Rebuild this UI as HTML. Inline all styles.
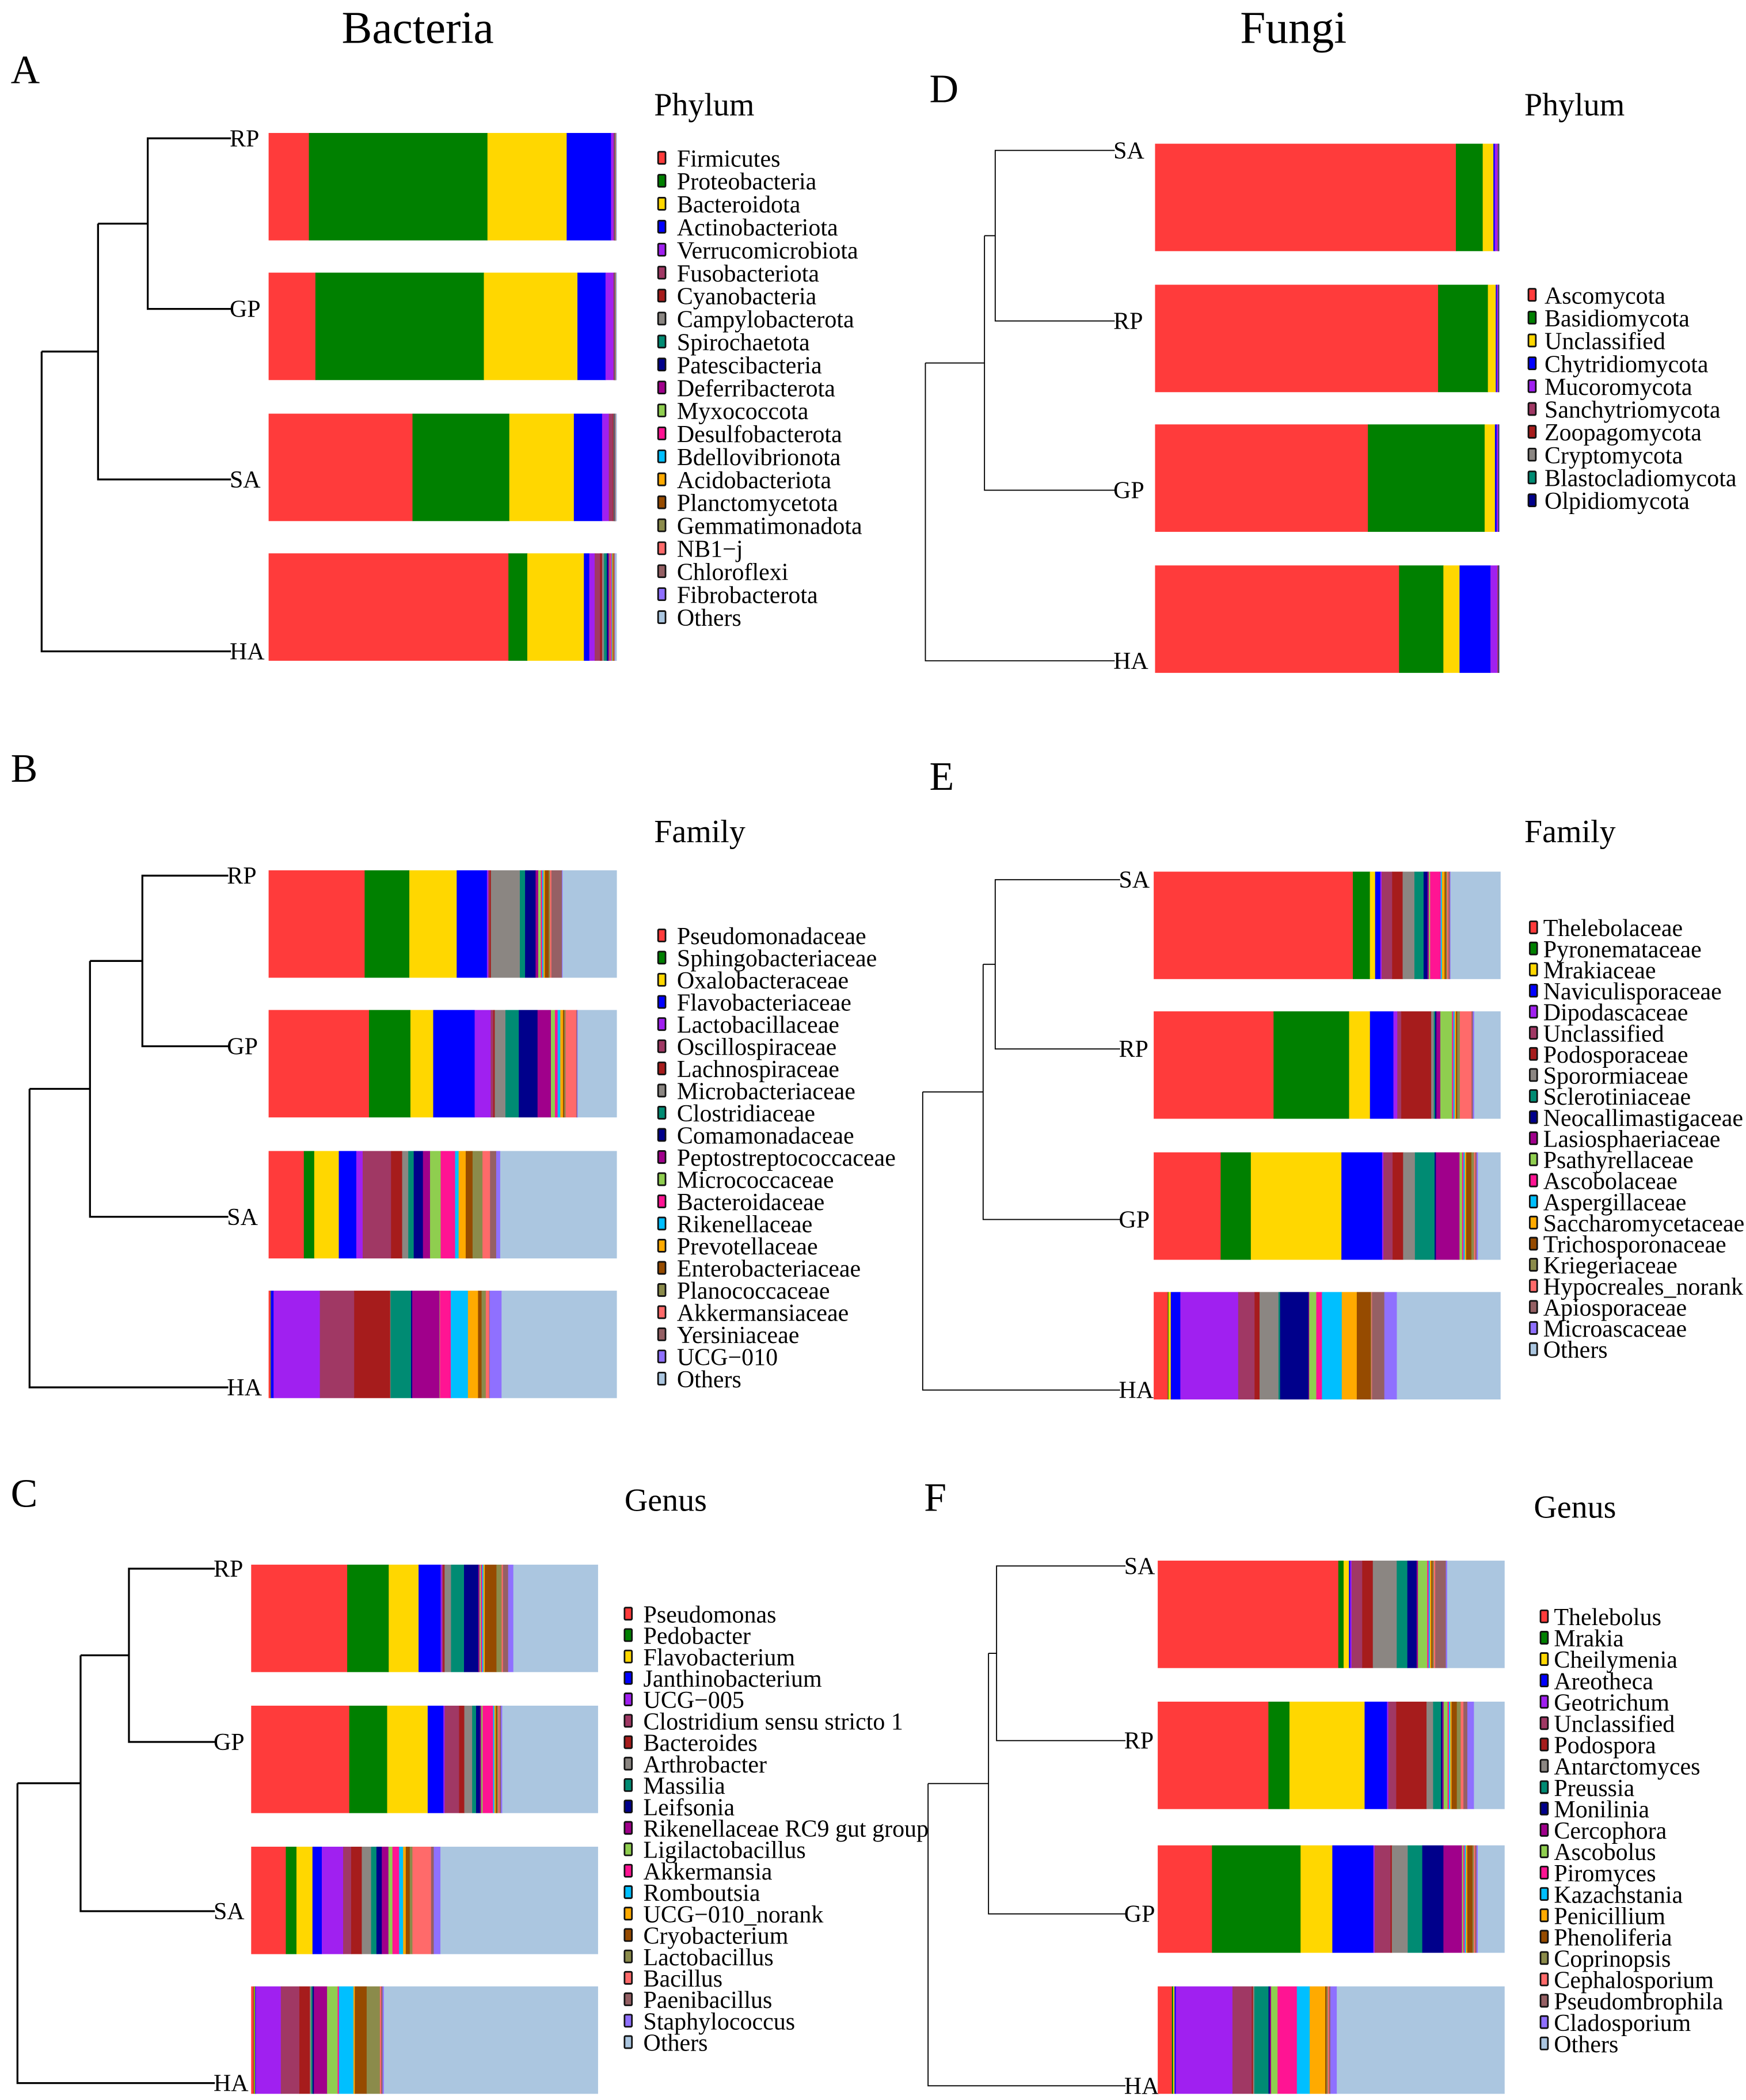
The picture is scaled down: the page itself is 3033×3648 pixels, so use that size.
<!DOCTYPE html>
<html><head><meta charset="utf-8"><style>
html,body{margin:0;padding:0;background:#fff}
svg{display:block}
text{font-family:"Liberation Serif",serif;fill:#000}
</style></head><body>
<svg id="fig" xmlns="http://www.w3.org/2000/svg" width="3033" height="3648" viewBox="0 0 1300 1563.6">
<rect x="0" y="0" width="1300" height="1563.6" fill="#fff"/>
<text x="311" y="32" font-size="34" text-anchor="middle">Bacteria</text>
<text x="963" y="32" font-size="34" text-anchor="middle">Fungi</text>
</svg>
<script>
const palette=['#FF3B3B','#008000','#FFD700','#0000FF','#A020F0','#A03864','#A61C1C','#8B8682','#008B73','#00008B','#A0008B','#8FCE4F','#FF1493','#00BFFF','#FFAA00','#964B00','#8B8B4B','#FF6A6A','#956064','#8F70FF'];
const othersColor='#ABC6E0';

// Panel A: bacteria phylum
const aSamples=['RP','GP','SA','HA'];
const aTaxa=['Firmicutes','Proteobacteria','Bacteroidota','Actinobacteriota','Verrucomicrobiota','Fusobacteriota','Cyanobacteria','Campylobacterota','Spirochaetota','Patescibacteria','Deferribacterota','Myxococcota','Desulfobacterota','Bdellovibrionota','Acidobacteriota','Planctomycetota','Gemmatimonadota','NB1\u2212j','Chloroflexi','Fibrobacterota','Others'];
const aValues=[
[30,133,59,33,2,0.3,0.2,0.2,0.1,0.1,0.1,0.1,0.1,0.1,0.1,0.1,0.1,0.1,0.1,0.1,0.2],
[35,126,70,21,6,0.3,0.2,0.2,0.1,0.1,0.1,0.1,0.1,0.1,0.1,0.1,0.1,0.1,0.1,0.1,0.3],
[107,72,48,21,5,3,0.5,0.3,0.2,0.2,0.1,0.1,0.1,0.1,0.1,0.1,0.1,0.1,0.1,0.1,0.5],
[178,14,42,4,4,4,1.5,1.5,2,1,1,0.5,1,0.5,0.5,0.5,0.3,0.3,0.3,0.3,1]];

// Panel D: fungi phylum
const dSamples=['SA','RP','GP','HA'];
const dTaxa=['Ascomycota','Basidiomycota','Unclassified','Chytridiomycota','Mucoromycota','Sanchytriomycota','Zoopagomycota','Cryptomycota','Blastocladiomycota','Olpidiomycota'];
const dValues=[
[87.5,7.8,3.1,0.4,0.8,0.1,0.1,0.1,0.05,0.05],
[82.4,14.5,2.3,0.3,0.3,0.1,0.05,0.05,0.05,0.05],
[62,34,3,0.5,0.4,0.05,0.05,0.05,0.05,0.05],
[71,12.9,4.7,9,2,0.2,0.1,0.05,0.05,0.05]];

// Panel B: bacteria family
const bSamples=['RP','GP','SA','HA'];
const bTaxa=['Pseudomonadaceae','Sphingobacteriaceae','Oxalobacteraceae','Flavobacteriaceae','Lactobacillaceae','Oscillospiraceae','Lachnospiraceae','Microbacteriaceae','Clostridiaceae','Comamonadaceae','Peptostreptococcaceae','Micrococcaceae','Bacteroidaceae','Rikenellaceae','Prevotellaceae','Enterobacteriaceae','Planococcaceae','Akkermansiaceae','Yersiniaceae','UCG\u2212010','Others'];
const bValues=[
[73,34,36,23,1,1,1,22,4,8,2,2,1,1,1,3,1,1,8,0.5,41],
[75,31,17,31,12,2,1,8,10,14,10,3,2,2,2,1,1,8,0.5,0.5,29],
[149,44,104,74,27,120,47,26,23,39,30,45,61,15,30,29,42,32,26,17,492],
[7,1,1,12,197,146,153,2,87,5,116,2,46,73,43,15,18,14,2,51,489]];

// Panel E: fungi family
const eSamples=['SA','RP','GP','HA'];
const eTaxa=['Thelebolaceae','Pyronemataceae','Mrakiaceae','Naviculisporaceae','Dipodascaceae','Unclassified','Podosporaceae','Sporormiaceae','Sclerotiniaceae','Neocallimastigaceae','Lasiosphaeriaceae','Psathyrellaceae','Ascobolaceae','Aspergillaceae','Saccharomycetaceae','Trichosporonaceae','Kriegeriaceae','Hypocreales_norank','Apiosporaceae','Microascaceae','Others'];
const eValues=[
[152,13,4,4,1,8,8,9,7,3,1,1,8,1,2,1,1,1,1,0.5,38],
[92,58,16,18,3,3,23,2,1,1,3,9,1,1,1,1,2,9,1,1,20],
[51,23,69,31,1,7,8,9,15,1,18,2,1,1,1,4,2,1,1,1,17],
[62,3,10,42,254,72,22,83,7,125,3,31,25,87,66,61,3,3,54,55,454]];

// Panel C: bacteria genus
const cSamples=['RP','GP','SA','HA'];
const cTaxa=['Pseudomonas','Pedobacter','Flavobacterium','Janthinobacterium','UCG\u2212005','Clostridium sensu stricto 1','Bacteroides','Arthrobacter','Massilia','Leifsonia','Rikenellaceae RC9 gut group','Ligilactobacillus','Akkermansia','Romboutsia','UCG\u2212010_norank','Cryobacterium','Lactobacillus','Bacillus','Paenibacillus','Staphylococcus','Others'];
const cValues=[
[74,32,23,17,1,1,1,5,10,11,1,1,1,1,1,9,4,1,4,4,65],
[75,29,31,12,1,11,4,6,3,3,1,1,8,1,1,1,1,1,1,1,73],
[26,8,12,7,16,6,8,7,4,4,5,3,5,3,2,3,2,14,2,5,118],
[2,0.5,0.5,0.5,19,14,8,1,1,1,10,8,1,11,1,9,10,1,1,1,162]];

// Panel F: fungi genus
const fSamples=['SA','RP','GP','HA'];
const fTaxa=['Thelebolus','Mrakia','Cheilymenia','Areotheca','Geotrichum','Unclassified','Podospora','Antarctomyces','Preussia','Monilinia','Cercophora','Ascobolus','Piromyces','Kazachstania','Penicillium','Phenoliferia','Coprinopsis','Cephalosporium','Pseudombrophila','Cladosporium','Others'];
const fValues=[
[136,4,4,1,1,8,8,18,8,7,1,7,1,1,1,1,1,1,8,1,43],
[84,16,57,17,1,6,23,5,6,1,1,3,1,1,1,4,3,2,3,5,23],
[41,67,24,31,1,12,1,12,11,16,14,1,1,1,1,4,1,1,1,1,20],
[11,1,1,1,44,15,1,1,11,1,1,5,15,10,12,1,1,1,1,5,130]];

const NS='http://www.w3.org/2000/svg';
const svg=document.getElementById('fig');
function el(tag,attrs,parent){const e=document.createElementNS(NS,tag);for(const k in attrs)e.setAttribute(k,attrs[k]);(parent||svg).appendChild(e);return e;}

function drawPanel(p,samples,taxa,values){
  const g=el('g',{});
  
  
  const L=el('text',{x:p.lx,y:p.ly,'font-size':30},g);L.textContent=p.letter;
  
  
  const ly=p.leafY, lw=p.lw;
  const tg=el('g',{stroke:'#000','stroke-width':lw,fill:'none'},g);
  
  
  const tipX=p.tipX;
  const m1=(ly[0]+ly[1])/2, m2=(m1+ly[2])/2;
  const path='M'+tipX+','+ly[0]+'H'+p.j[0]+'V'+ly[1]+'H'+tipX+
    'M'+p.j[0]+','+m1+'H'+p.j[1]+'M'+p.j[1]+','+m1+'V'+ly[2]+'H'+tipX+
    'M'+p.j[1]+','+m2+'H'+p.j[2]+'M'+p.j[2]+','+m2+'V'+ly[3]+'H'+tipX;
  el('path',{d:path},tg);
  const xs=v=>p.x0+v*(p.x1-p.x0);
  samples.forEach((s,i)=>{
    const t=el('text',{x:tipX-1,y:ly[i]+6,'font-size':18,'text-anchor':'start'},g);
    t.textContent=s;
    
    
    const vals=values[i];const tot=vals.reduce((a,b)=>a+b,0);let acc=0;
    vals.forEach((v,k)=>{
      const c=(k===taxa.length-1&&taxa[k]==='Others')?othersColor:palette[k%palette.length];
      const r=el('rect',{x:xs(acc/tot),y:p.barY[i],width:Math.max(0,xs((acc+v)/tot)-xs(acc/tot))+0.3,height:80,fill:c},g);
      
      
      acc+=v;
    });
  });
  const tt=el('text',{x:p.tx,y:p.ty,'font-size':24},g);tt.textContent=p.title;
  
  
  taxa.forEach((n,k)=>{
    const y=p.ey0+k*p.es;
    const c=(n==='Others')?othersColor:palette[k%palette.length];
    const sq=el('rect',{x:p.sx,y:y-5,width:5.5,height:9,fill:c,stroke:'#111','stroke-width':1.2,rx:0.8},g);
    
    
    const t=el('text',{x:p.txt,y:y+6,'font-size':18},g);t.textContent=n;
    
    
  });
}

drawPanel({letter:'A',lx:8,ly:62,x0:200,x1:459,barY:[99,203,308,412],leafY:[103,230,357,485],tipX:172,j:[110,73,31],lw:1.4,title:'Phylum',tx:487,ty:86,sx:490,txt:504,ey0:118,es:17.1},aSamples,aTaxa,aValues);
drawPanel({letter:'D',lx:692,ly:76,x0:860,x1:1116,barY:[107,212,316,421],leafY:[112,239,365,492],tipX:830,j:[741,733,689],lw:0.8,title:'Phylum',tx:1135,ty:86,sx:1138,txt:1150,ey0:220,es:17},dSamples,dTaxa,dValues);
drawPanel({letter:'B',lx:8,ly:582,x0:200,x1:459,barY:[648,752,857,961],leafY:[652,779,906,1033],tipX:170,j:[106,67,22],lw:1.4,title:'Family',tx:487,ty:627,sx:490,txt:504,ey0:697,es:16.5},bSamples,bTaxa,bValues);
drawPanel({letter:'E',lx:692,ly:588,x0:859,x1:1117,barY:[649,753,858,962],leafY:[655,781,908,1035],tipX:834,j:[741,732,687],lw:0.8,title:'Family',tx:1135,ty:627,sx:1139,txt:1149,ey0:691,es:15.7},eSamples,eTaxa,eValues);
drawPanel({letter:'C',lx:8,ly:1122,x0:187,x1:445,barY:[1165,1270,1375,1479],leafY:[1168,1297,1423,1551],tipX:160,j:[96,60,13],lw:1.4,title:'Genus',tx:465,ty:1125,sx:465,txt:479,ey0:1202,es:15.95},cSamples,cTaxa,cValues);
drawPanel({letter:'F',lx:688,ly:1125,x0:862,x1:1120,barY:[1162,1267,1374,1479],leafY:[1166,1296,1425,1553],tipX:838,j:[742,736,691],lw:0.8,title:'Genus',tx:1142,ty:1130,sx:1147,txt:1157,ey0:1204,es:15.9},fSamples,fTaxa,fValues);
</script>
</body></html>
